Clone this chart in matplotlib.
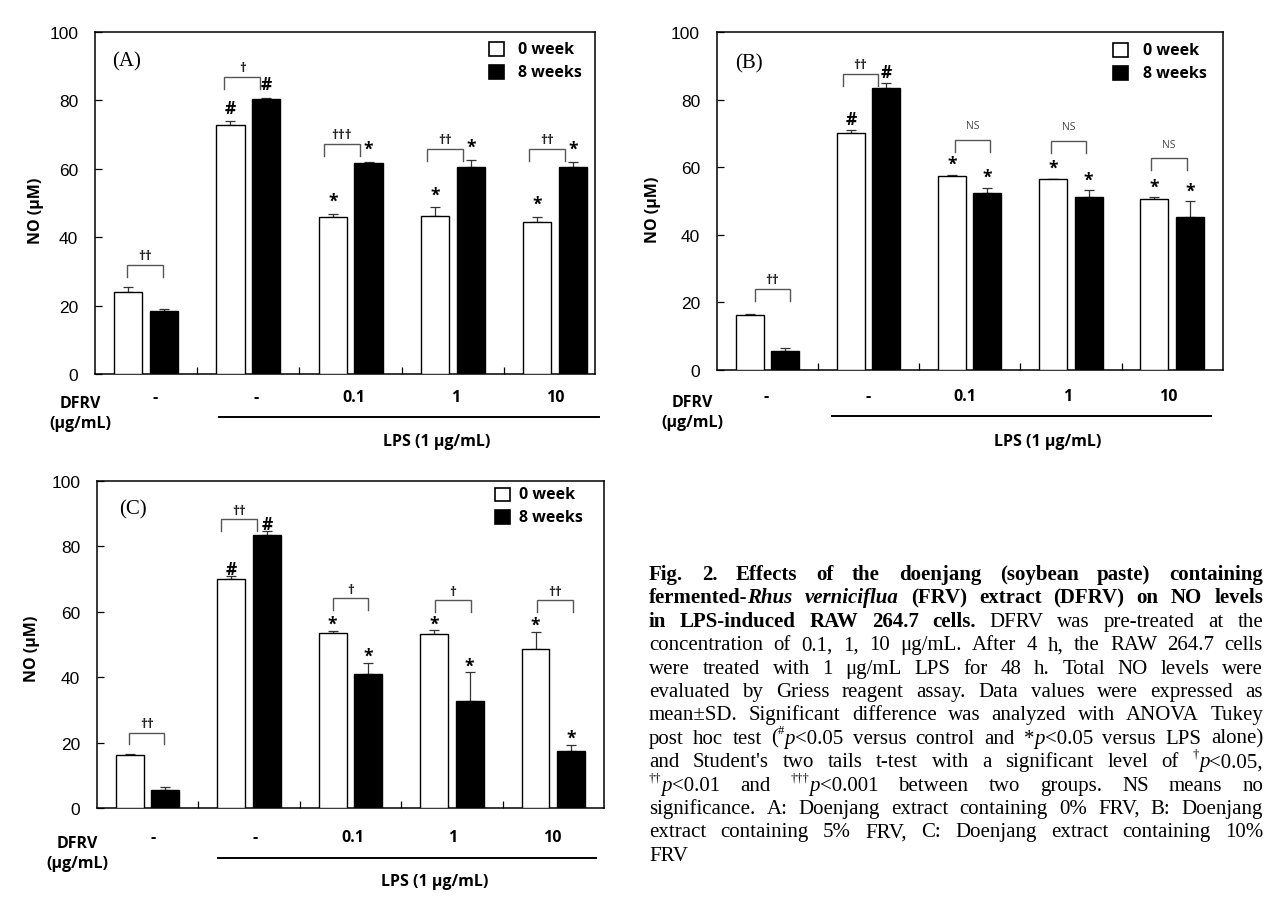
import matplotlib
matplotlib.use('Agg')
import matplotlib.pyplot as plt
import matplotlib.transforms as mtransforms
from matplotlib.patches import Rectangle
import numpy as np

# ---------------- data ----------------
dose_labels = ['-', '-', '0.1', '1', '10']
series_names = ['0 week', '8 weeks']

a_week0 = [24.0, 72.8, 46.0, 46.3, 44.5]
a_week0_sd = [1.3, 1.1, 0.7, 2.4, 1.4]
a_week8 = [18.3, 80.3, 61.7, 60.6, 60.4]
a_week8_sd = [0.6, 0.5, 0.3, 1.9, 1.6]
a_marks0 = ['', '#', '*', '*', '*']
a_marks8 = ['', '#', '*', '*', '*']
a_sig = ['††', '†', '†††', '††', '††']
a_sig_y = [32.0, 86.8, 67.3, 65.9, 65.9]

b_week0 = [16.3, 70.1, 57.5, 56.6, 50.7]
b_week0_sd = [0.2, 1.0, 0.3, 0.1, 0.4]
b_week8 = [5.6, 83.6, 52.3, 51.3, 45.3]
b_week8_sd = [0.8, 1.3, 1.6, 1.9, 4.6]
b_marks0 = ['', '#', '*', '*', '*']
b_marks8 = ['', '#', '*', '*', '*']
b_sig = ['††', '††', 'NS', 'NS', 'NS']
b_sig_y = [24.0, 87.7, 68.2, 67.9, 62.7]

c_week0 = [16.3, 70.0, 53.6, 53.3, 48.8]
c_week0_sd = [0.2, 1.0, 0.7, 1.1, 5.1]
c_week8 = [5.6, 83.5, 41.0, 32.9, 17.5]
c_week8_sd = [0.8, 1.2, 3.4, 8.6, 1.9]
c_marks0 = ['', '#', '*', '*', '*']
c_marks8 = ['', '#', '*', '*', '*']
c_sig = ['††', '††', '†', '†', '††']
c_sig_y = [23.1, 88.3, 64.3, 63.5, 63.5]

# ---------------- figure ----------------
W, H = 1278, 904
fig = plt.figure(figsize=(W / 100, H / 100), dpi=100)
fig.patch.set_facecolor('white')

SANS = ['Open Sans', 'DejaVu Sans']
TICKF = ['Liberation Sans', 'DejaVu Sans']
SERIF = ['Liberation Serif', 'DejaVu Serif']


def px_rect(l, r, t, b):
    return [l / W, (H - b) / H, (r - l) / W, (b - t) / H]


panels = [
    dict(rect=px_rect(95, 595, 33, 375), xlim=(-0.5, 4.39), letter='(A)',
         data=(a_week0, a_week0_sd, a_week8, a_week8_sd, a_marks0, a_marks8, a_sig, a_sig_y),
         shifts=[-0.01, -0.06, -0.085, -0.08, -0.08], mark_off=9.5,
         lab_x=[0.09, 1.08, 2.03, 3.03, 4.0], lab_y=-0.068,
         dfrv=(-0.03, -0.085, -0.143), line=(0.713, 4.425, -0.125), lps=(2.84, -0.195),
         letter_pos=(0.063, 0.917), ylab=(-0.119, 0.48),
         leg=(0.788, 0.846, [0.950, 0.883])),
    dict(rect=px_rect(716.7, 1222.7, 33.3, 371), xlim=(-0.5, 4.5), letter='(B)',
         data=(b_week0, b_week0_sd, b_week8, b_week8_sd, b_marks0, b_marks8, b_sig, b_sig_y),
         shifts=[0.05, -0.08, 0.03, -0.025, -0.03], mark_off=8.0,
         lab_x=[-0.01, 1.0, 1.95, 2.97, 3.96], lab_y=-0.076,
         dfrv=(-0.049, -0.094, -0.155), line=(0.636, 4.38, -0.135), lps=(2.77, -0.209),
         letter_pos=(0.064, 0.909), ylab=(-0.126, 0.477),
         leg=(0.783, 0.8425, [0.948, 0.879])),
    dict(rect=px_rect(96.9, 604, 482, 809.3), xlim=(-0.5, 4.5), letter='(C)',
         data=(c_week0, c_week0_sd, c_week8, c_week8_sd, c_marks0, c_marks8, c_sig, c_sig_y),
         shifts=[-0.01, -0.1, 0.0, 0.01, 0.015], mark_off=5.0,
         lab_x=[0.05, 1.06, 2.02, 3.01, 3.99], lab_y=-0.0885,
         dfrv=(-0.039, -0.107, -0.167), line=(0.695, 4.42, -0.153), lps=(2.83, -0.223),
         letter_pos=(0.072, 0.914), ylab=(-0.127, 0.49),
         leg=(0.785, 0.832, [0.959, 0.890])),
]

BW = 0.275
OFF = 0.175
ERRC = '#333333'
BRC = '#555555'

for p in panels:
    ax = fig.add_axes(p['rect'])
    w0, w0sd, w8, w8sd, m0, m8, sig, sigy = p['data']
    x = np.arange(len(dose_labels))
    ax.bar(x - OFF, w0, width=BW, color='white', edgecolor='black', linewidth=1.0, zorder=3)
    ax.bar(x + OFF, w8, width=BW, color='black', edgecolor='black', linewidth=1.0, zorder=3)
    z = np.zeros(len(x))
    ax.errorbar(x - OFF, w0, yerr=[z, w0sd], fmt='none', ecolor=ERRC, elinewidth=0.9,
                capsize=3.5, capthick=0.9, zorder=2)
    ax.errorbar(x + OFF, w8, yerr=[z, w8sd], fmt='none', ecolor=ERRC, elinewidth=0.9,
                capsize=3.5, capthick=0.9, zorder=2)

    # significance marks above bars
    for xs_, vals, sds, marks in ((x - OFF, w0, w0sd, m0), (x + OFF, w8, w8sd, m8)):
        for xi, v, s, m in zip(xs_, vals, sds, marks):
            if m:
                ax.annotate(m, (xi, v + s), xytext=(0, p['mark_off']),
                            textcoords='offset points', ha='center', va='center',
                            fontsize=12.5, fontweight='bold', family=SANS, zorder=5)

    # brackets between the two weeks
    for xi, lab, yb, sh in zip(x, sig, sigy, p['shifts']):
        xl, xr = xi - OFF + sh, xi + OFF + sh
        ax.plot([xl, xl, xr, xr], [yb - 3.6, yb, yb, yb - 3.6], color=BRC, lw=1.0,
                solid_joinstyle='miter', zorder=4)
        if lab == 'NS':
            ax.text((xl + xr) / 2, yb + 4.2, lab, ha='center', va='center', fontsize=7.5,
                    color='#444444', family=SANS)
        else:
            ax.text((xl + xr) / 2, yb + 2.7, lab, ha='center', va='center', fontsize=9.5,
                    color='#222222', family=SANS, fontweight='bold')

    ax.set_xlim(*p['xlim'])
    ax.set_ylim(0, 100)
    ax.set_yticks(np.arange(0, 101, 20))
    ax.set_yticklabels([str(v) for v in range(0, 101, 20)], family=TICKF, fontsize=12.5)
    ax.tick_params(axis='y', direction='in', length=5, width=0.9, pad=12)
    ax.set_xticks([0.5, 1.5, 2.5, 3.5])
    ax.set_xticklabels([])
    ax.tick_params(axis='x', direction='in', length=5, width=0.9)
    for sp in ax.spines.values():
        sp.set_linewidth(1.1)

    ax.text(p['ylab'][0], p['ylab'][1], 'NO (μM)', transform=ax.transAxes, rotation=90,
            ha='center', va='center', fontsize=11.5, fontweight='bold', family=SANS)
    ax.text(p['letter_pos'][0], p['letter_pos'][1], p['letter'], transform=ax.transAxes,
            ha='center', va='center', fontsize=15, family=SERIF)

    # legend (manual squares)
    lx, tx, rows = p['leg']
    fills = ['white', 'black']
    for name, fc, ry in zip(series_names, fills, rows):
        ax.add_patch(Rectangle((lx, ry - 0.02), 0.03, 0.04, transform=ax.transAxes,
                               facecolor=fc, edgecolor='black', lw=1.2, clip_on=False))
        ax.text(tx, ry, name, transform=ax.transAxes, ha='left', va='center',
                fontsize=11.5, fontweight='bold', family=SANS)

    # below-axis annotations
    trans = mtransforms.blended_transform_factory(ax.transData, ax.transAxes)
    for lx_, lab in zip(p['lab_x'], dose_labels):
        ax.text(lx_, p['lab_y'], lab, transform=trans, ha='center', va='center',
                fontsize=11.5, fontweight='bold', family=SANS, clip_on=False)
    dx, dy1, dy2 = p['dfrv']
    ax.text(dx, dy1, 'DFRV', transform=ax.transAxes, ha='center', va='center',
            fontsize=11.5, fontweight='bold', family=SANS)
    ax.text(dx, dy2, '(μg/mL)', transform=ax.transAxes, ha='center', va='center',
            fontsize=11.5, fontweight='bold', family=SANS)
    l0, l1, ly = p['line']
    ax.plot([l0, l1], [ly, ly], transform=trans, color='black', lw=1.4, clip_on=False)
    ax.text(p['lps'][0], p['lps'][1], 'LPS (1 μg/mL)', transform=trans, ha='center',
            va='center', fontsize=11.5, fontweight='bold', family=SANS)

# ---------------- caption (justified) ----------------
cap_lines = [
    [('Fig. 2. Effects of the doenjang (soybean paste) containing', 'b')],
    [('fermented-', 'b'), ('Rhus verniciflua', 'bi'), (' (FRV) extract (DFRV) on NO levels', 'b')],
    [('in LPS-induced RAW 264.7 cells.', 'b'), (' DFRV was pre-treated at the', 'r')],
    [('concentration of 0.1, 1, 10 μg/mL. After 4 h, the RAW 264.7 cells', 'r')],
    [('were treated with 1 μg/mL LPS for 48 h. Total NO levels were', 'r')],
    [('evaluated by Griess reagent assay. Data values were expressed as', 'r')],
    [('mean±SD. Significant difference was analyzed with ANOVA Tukey', 'r')],
    [('post hoc test (', 'r'), ('#', 'sup'), ('p', 'i'), ('<0.05 versus control and *', 'r'),
     ('p', 'i'), ('<0.05 versus LPS alone)', 'r')],
    [("and Student's two tails t-test with a significant level of ", 'r'), ('†', 'sup'),
     ('p', 'i'), ('<0.05,', 'r')],
    [('††', 'sup'), ('p', 'i'), ('<0.01 and ', 'r'), ('†††', 'sup'), ('p', 'i'),
     ('<0.001 between two groups. NS means no', 'r')],
    [('significance. A: Doenjang extract containing 0% FRV, B: Doenjang', 'r')],
    [('extract containing 5% FRV, C: Doenjang extract containing 10%', 'r')],
    [('FRV', 'r')],
]

CAP_L, CAP_R = 649, 1263
CAP_Y0, CAP_PITCH = 580, 23.4


def tokenize(line):
    words, cur = [], []
    for text, st in line:
        parts = text.split(' ')
        for i, part in enumerate(parts):
            if i > 0 and cur:
                words.append(cur)
                cur = []
            if part:
                cur.append((part, st))
    if cur:
        words.append(cur)
    return words


def style_kw(st, fs):
    kw = dict(family=SERIF, fontsize=fs, fontweight='normal', fontstyle='normal')
    if st in ('b', 'bi'):
        kw['fontweight'] = 'bold'
    if st in ('i', 'bi'):
        kw['fontstyle'] = 'italic'
    if st == 'sup':
        kw['fontsize'] = fs * 0.6
    return kw


renderer = fig.canvas.get_renderer()


def seg_width(text, st, fs):
    t = fig.text(0, 0, text, **style_kw(st, fs))
    w = t.get_window_extent(renderer).width
    t.remove()
    return w


def space_width(fs):
    return seg_width('a a', 'r', fs) - seg_width('aa', 'r', fs)


line_words = [tokenize(l) for l in cap_lines]


def natural_max(fs):
    sp = space_width(fs)
    mx = 0
    for words in line_words[:-1]:
        tot = sum(seg_width(t, s, fs) for wd in words for t, s in wd)
        tot += sp * (len(words) - 1) * 0.6
        mx = max(mx, tot)
    return mx


fs = 15.0
nm = natural_max(fs)
if nm > (CAP_R - CAP_L):
    fs = fs * (CAP_R - CAP_L) / nm * 0.995

sp = space_width(fs)
for li, words in enumerate(line_words):
    yb = CAP_Y0 + li * CAP_PITCH
    widths = [[seg_width(t, s, fs) for t, s in wd] for wd in words]
    totals = [sum(w) for w in widths]
    if li < len(line_words) - 1 and len(words) > 1:
        gap = ((CAP_R - CAP_L) - sum(totals)) / (len(words) - 1)
    else:
        gap = sp
    xcur = CAP_L
    for wd, ws in zip(words, widths):
        xs = xcur
        for (t, s), w in zip(wd, ws):
            yy = yb - (fs * 0.45 * 100 / 72 if s == 'sup' else 0)
            fig.text(xs / W, 1 - yy / H, t, ha='left', va='baseline', **style_kw(s, fs))
            xs += w
        xcur += sum(ws) + gap

fig.savefig('out.png', dpi=100, facecolor='white')
